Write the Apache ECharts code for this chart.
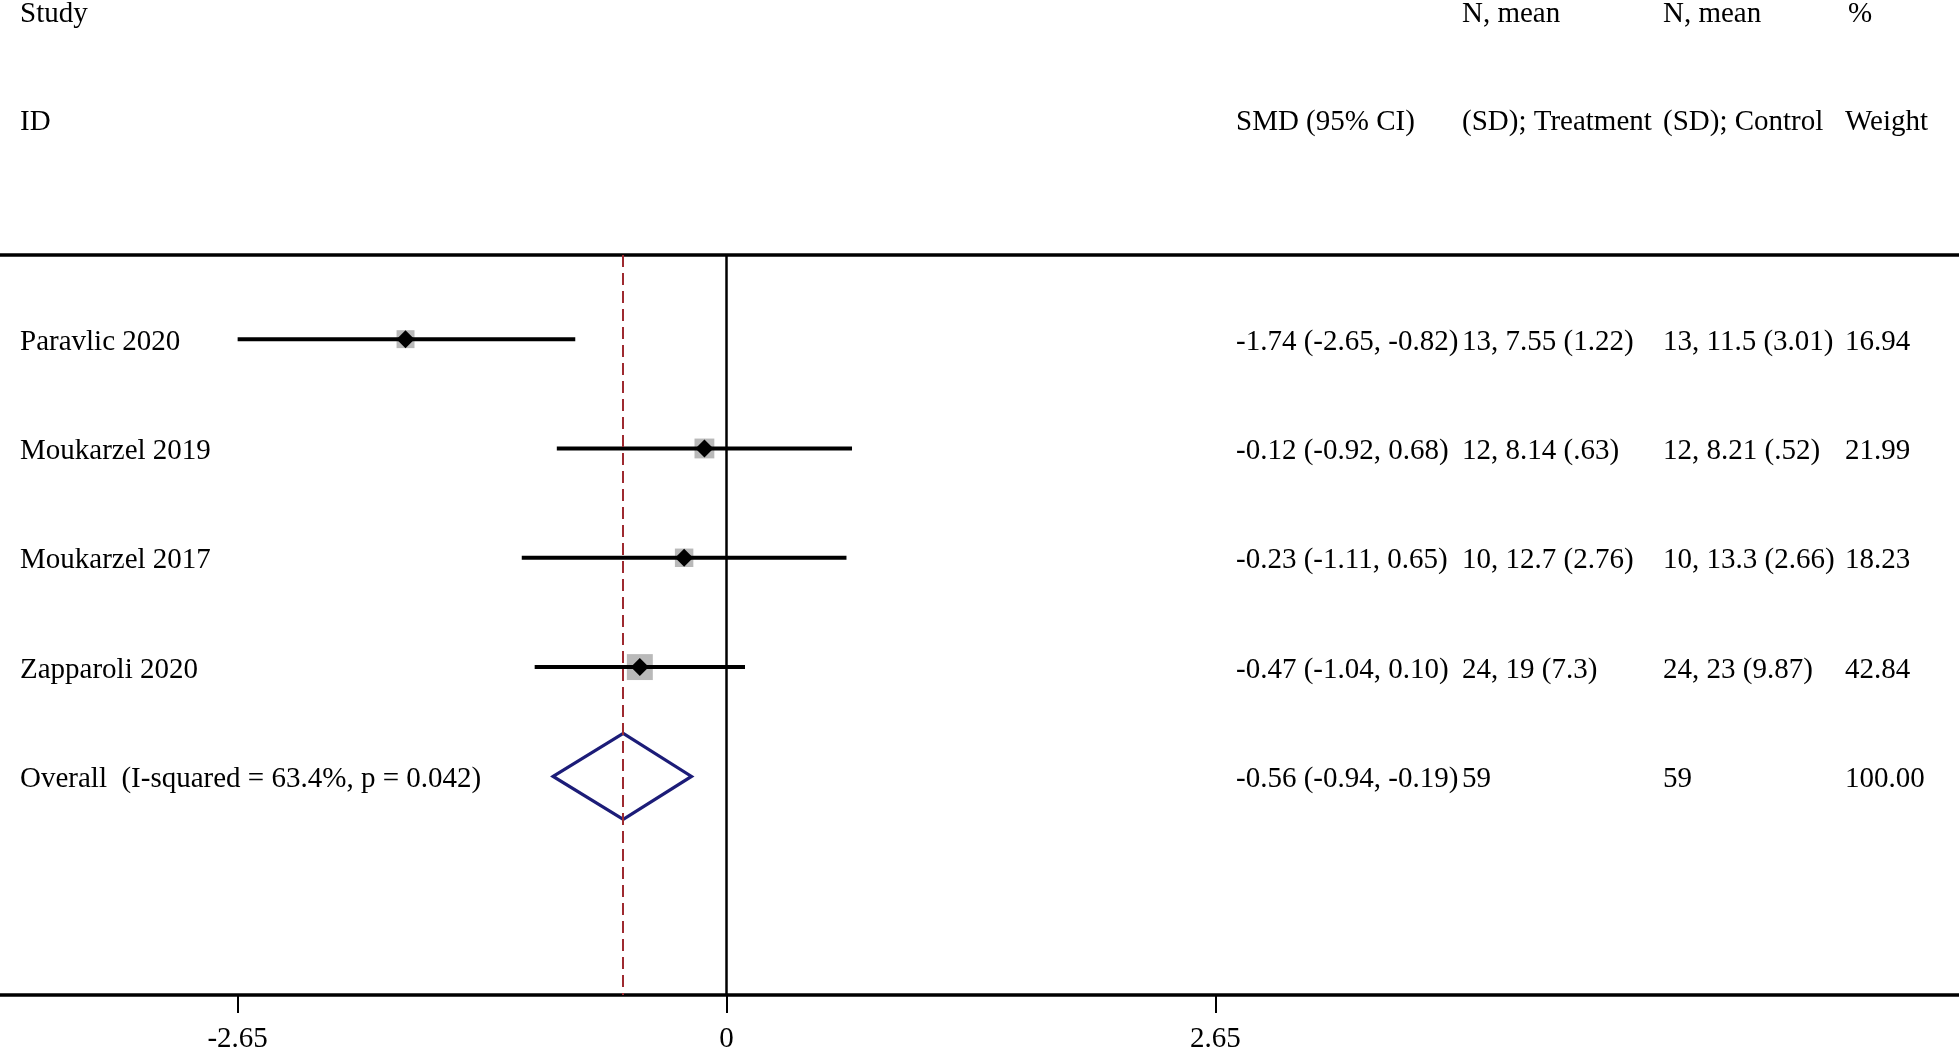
<!DOCTYPE html>
<html>
<head>
<meta charset="utf-8">
<script src="https://cdn.jsdelivr.net/npm/echarts@6/dist/echarts.min.js"></script>
<style>
html,body{margin:0;padding:0;background:#fff;}
#chart{width:1959px;height:1048px;}
</style>
</head>
<body>
<div id="chart"></div>
<script>
// ---- data ----
const studyLabels = ['Paravlic 2020', 'Moukarzel 2019', 'Moukarzel 2017', 'Zapparoli 2020'];
const smd = [-1.74, -0.12, -0.23, -0.47];
const ciLower = [-2.65, -0.92, -1.11, -1.04];
const ciUpper = [-0.82, 0.68, 0.65, 0.10];
const weights = [16.94, 21.99, 18.23, 42.84];
const treatmentText = ['13, 7.55 (1.22)', '12, 8.14 (.63)', '10, 12.7 (2.76)', '24, 19 (7.3)'];
const controlText = ['13, 11.5 (3.01)', '12, 8.21 (.52)', '10, 13.3 (2.66)', '24, 23 (9.87)'];
const overallLabel = 'Overall  (I-squared = 63.4%, p = 0.042)';
const overallSMD = -0.56;
const overallLower = -0.94;
const overallUpper = -0.19;
const overallTreatment = '59';
const overallControl = '59';
const overallWeight = '100.00';
const tickValues = [-2.65, 0, 2.65];
const headerTop = ['Study', 'N, mean', 'N, mean', '%'];
const headerBottom = ['ID', 'SMD (95% CI)', '(SD); Treatment', '(SD); Control', 'Weight'];

// ---- layout (pixels / styles) ----
const FONT = '29px "Liberation Serif", "Times New Roman", serif';
const colX = { study: 20, smd: 1236, treat: 1462, ctrl: 1663, weight: 1845 };
const headerTopX = [20, 1462, 1663, 1848];
const headerBottomX = [20, 1236, 1462, 1663, 1845];
const headerTopY = 16, headerBottomY = 124;
const TEXT_DY = 3;

const fmt = v => v.toFixed(2);
const rows = studyLabels.map((s, i) => ({
  y: i + 1,
  label: s,
  smdText: `${fmt(smd[i])} (${fmt(ciLower[i])}, ${fmt(ciUpper[i])})`,
  treat: treatmentText[i],
  ctrl: controlText[i],
  weight: fmt(weights[i])
}));
rows.push({
  y: studyLabels.length + 1,
  label: overallLabel,
  smdText: `${fmt(overallSMD)} (${fmt(overallLower)}, ${fmt(overallUpper)})`,
  treat: overallTreatment,
  ctrl: overallControl,
  weight: overallWeight
});

const studyData = studyLabels.map((s, i) => [smd[i], i + 1, ciLower[i], ciUpper[i], weights[i]]);
const overallData = [[overallSMD, studyLabels.length + 1, overallLower, overallUpper]];
const textData = rows.map((r, i) => [0, r.y, i]);

const chart = echarts.init(document.getElementById('chart'), null, { renderer: 'canvas' });

function txt(x, y, s) {
  return { type: 'text', style: { x: x, y: y, text: s, font: FONT, fill: '#000', align: 'left', verticalAlign: 'middle' } };
}

const option = {
  animation: false,
  backgroundColor: '#fff',
  grid: { left: 0, right: 0, top: 255, bottom: 53, containLabel: false, outerBoundsMode: 'none' },
  xAxis: [{
    type: 'value', min: -3.938, max: 6.68, position: 'bottom',
    splitLine: { show: false },
    axisLine: { show: true, onZero: false, lineStyle: { color: '#000', width: 3.5 } },
    axisTick: { show: true, customValues: tickValues, length: 18, lineStyle: { color: '#000', width: 2 } },
    axisLabel: { show: true, customValues: tickValues, margin: 30, color: '#000',
      fontFamily: '"Liberation Serif", "Times New Roman", serif', fontSize: 29,
      formatter: v => String(v) }
  }, {
    type: 'value', min: -3.938, max: 6.68, position: 'top',
    splitLine: { show: false },
    axisLine: { show: true, onZero: false, lineStyle: { color: '#000', width: 3.5 } },
    axisTick: { show: false }, axisLabel: { show: false }
  }],
  yAxis: {
    type: 'value', inverse: true, min: 0.23, max: 7, show: false
  },
  series: [
    {
      // reference lines
      type: 'line', data: [], xAxisIndex: 0,
      markLine: {
        silent: true, symbol: 'none', label: { show: false },
        data: [
          { xAxis: 0, lineStyle: { color: '#000', width: 2.5, type: 'solid' } },
          { xAxis: overallSMD, lineStyle: { color: '#9e2a30', width: 2, type: [12, 6] } }
        ]
      }
    },
    {
      type: 'custom', data: studyData, clip: false,
      renderItem: function (params, api) {
        const est = api.value(0), y = api.value(1), lo = api.value(2), hi = api.value(3), w = api.value(4);
        const c = api.coord([est, y]);
        const pl = api.coord([lo, y]);
        const ph = api.coord([hi, y]);
        const side = 4.4 + 3.29 * Math.sqrt(w);
        const d = 9;
        return {
          type: 'group',
          children: [
            { type: 'rect', shape: { x: c[0] - side / 2, y: c[1] - side / 2, width: side, height: side }, style: { fill: '#b9b9b9' } },
            { type: 'line', shape: { x1: pl[0], y1: pl[1], x2: ph[0], y2: ph[1] }, style: { stroke: '#000', lineWidth: 4 } },
            { type: 'polygon', shape: { points: [[c[0] - d, c[1]], [c[0], c[1] - d], [c[0] + d, c[1]], [c[0], c[1] + d]] }, style: { fill: '#000' } }
          ]
        };
      }
    },
    {
      type: 'custom', data: overallData, clip: false,
      renderItem: function (params, api) {
        const est = api.value(0), y = api.value(1), lo = api.value(2), hi = api.value(3);
        const c = api.coord([est, y]);
        const pl = api.coord([lo, y]);
        const ph = api.coord([hi, y]);
        const h = 43;
        return {
          type: 'polygon',
          shape: { points: [[pl[0], c[1]], [c[0], c[1] - h], [ph[0], c[1]], [c[0], c[1] + h]] },
          style: { fill: 'none', stroke: '#1c1c78', lineWidth: 3.2, lineJoin: 'miter' }
        };
      }
    },
    {
      type: 'custom', data: textData, clip: false,
      renderItem: function (params, api) {
        const r = rows[api.value(2)];
        const y = api.coord([0, api.value(1)])[1] + TEXT_DY;
        return {
          type: 'group',
          children: [
            txt(colX.study, y, r.label),
            txt(colX.smd, y, r.smdText),
            txt(colX.treat, y, r.treat),
            txt(colX.ctrl, y, r.ctrl),
            txt(colX.weight, y, r.weight)
          ]
        };
      }
    }
  ],
  graphic: headerTop.map((s, i) => ({
    type: 'text', left: headerTopX[i], top: headerTopY - 16,
    style: { text: s, font: FONT, fill: '#000' }
  })).concat(headerBottom.map((s, i) => ({
    type: 'text', left: headerBottomX[i], top: headerBottomY - 16,
    style: { text: s, font: FONT, fill: '#000' }
  })))
};
chart.setOption(option);
</script>
</body>
</html>
